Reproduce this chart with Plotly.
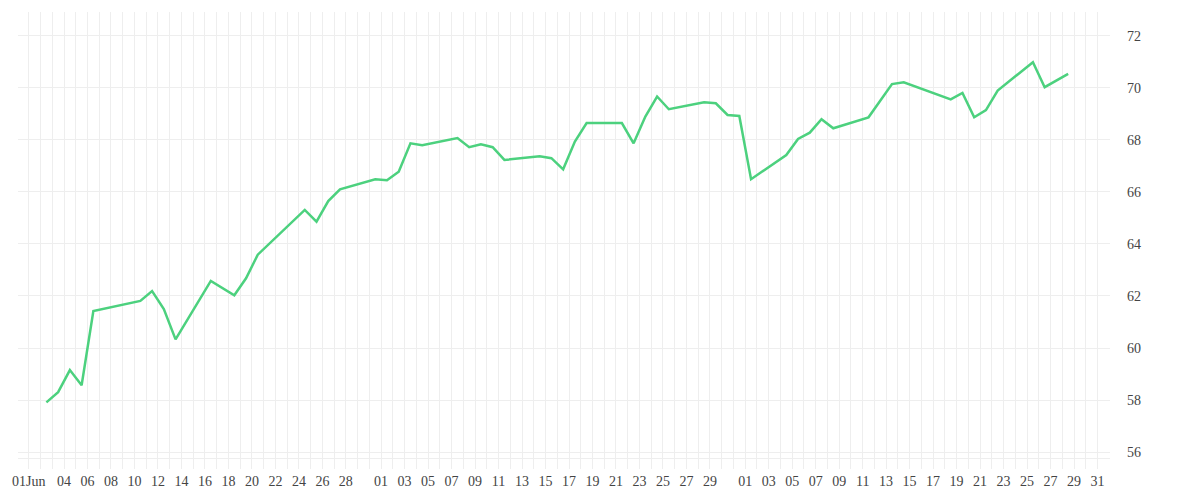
import plotly.graph_objects as go
import pandas as pd

dates = [
    "2024-06-02 12:00", "2024-06-03 12:00", "2024-06-04 12:00", "2024-06-05 12:00",
    "2024-06-06 12:00", "2024-06-10 12:00", "2024-06-11 12:00", "2024-06-12 12:00",
    "2024-06-13 12:00", "2024-06-16 12:00", "2024-06-18 12:00", "2024-06-19 12:00",
    "2024-06-20 12:00", "2024-06-24 12:00", "2024-06-25 12:00", "2024-06-26 12:00",
    "2024-06-27 12:00", "2024-06-30 12:00", "2024-07-01 12:00", "2024-07-02 12:00",
    "2024-07-03 12:00", "2024-07-04 12:00", "2024-07-07 12:00", "2024-07-08 12:00",
    "2024-07-09 12:00", "2024-07-10 12:00", "2024-07-11 12:00", "2024-07-14 12:00",
    "2024-07-15 12:00", "2024-07-16 12:00", "2024-07-17 12:00", "2024-07-18 12:00",
    "2024-07-21 12:00", "2024-07-22 12:00", "2024-07-23 12:00", "2024-07-24 12:00",
    "2024-07-25 12:00", "2024-07-28 12:00", "2024-07-29 12:00", "2024-07-30 12:00",
    "2024-07-31 12:00", "2024-08-01 12:00", "2024-08-04 12:00", "2024-08-05 12:00",
    "2024-08-06 12:00", "2024-08-07 12:00", "2024-08-08 12:00", "2024-08-11 12:00",
    "2024-08-13 12:00", "2024-08-14 12:00", "2024-08-18 12:00", "2024-08-19 12:00",
    "2024-08-20 12:00", "2024-08-21 12:00", "2024-08-22 12:00", "2024-08-25 12:00",
    "2024-08-26 12:00", "2024-08-28 12:00",
]
values = [
    57.91, 58.30, 59.15, 58.57,
    61.42, 61.81, 62.19, 61.50,
    60.33, 62.58, 62.03, 62.68,
    63.59, 65.31, 64.86, 65.65,
    66.10, 66.49, 66.45, 66.78,
    67.87, 67.80, 68.07, 67.72,
    67.83, 67.72, 67.23, 67.37,
    67.30, 66.87, 67.94, 68.65,
    68.65, 67.87, 68.90, 69.67,
    69.18, 69.45, 69.41, 68.96,
    68.92, 66.49, 67.42, 68.04,
    68.28, 68.80, 68.45, 68.87,
    70.15, 70.22, 69.56, 69.81,
    68.87, 69.15, 69.90, 70.99,
    70.03, 70.54,
]

# one tick per day, only some of them labelled
tick_days = pd.date_range("2024-06-01", "2024-08-31", freq="D")
hidden = {"2024-06-02", "2024-06-30", "2024-07-31"}
tick_text = []
for d in tick_days:
    key = d.strftime("%Y-%m-%d")
    if key == "2024-06-01":
        tick_text.append("01Jun")
    elif key in hidden:
        tick_text.append("")
    elif d.month == 6 and d.day % 2 == 0:
        tick_text.append(d.strftime("%d"))
    elif d.month in (7, 8) and d.day % 2 == 1:
        tick_text.append(d.strftime("%d"))
    else:
        tick_text.append("")

y_ticks = [56, 58, 60, 62, 64, 66, 68, 70, 72]

fig = go.Figure()
fig.add_trace(go.Scatter(
    x=dates, y=values, mode="lines",
    line=dict(color="#4cd17e", width=2.5),
    hoverinfo="x+y",
))

fig.update_layout(
    width=1200, height=500,
    margin=dict(l=7, r=98, t=4, b=50),
    plot_bgcolor="white", paper_bgcolor="white",
    showlegend=False,
    font=dict(family="Liberation Serif, serif", size=14, color="#444"),
)
fig.update_xaxes(
    type="date",
    range=["2024-05-31 02:00", "2024-09-01 01:30"],
    tickvals=list(tick_days), ticktext=tick_text,
    showgrid=True, gridcolor="#eeeeee", gridwidth=1,
    ticks="outside", ticklen=10, tickcolor="#eeeeee",
    showline=True, linecolor="#eeeeee",
    zeroline=False,
)
fig.update_yaxes(
    range=[55.77, 72.92],
    side="right", tickvals=y_ticks,
    showgrid=True, gridcolor="#eeeeee", gridwidth=1,
    ticklabelstandoff=16,
    zeroline=False,
)

fig.write_html("out.html")
